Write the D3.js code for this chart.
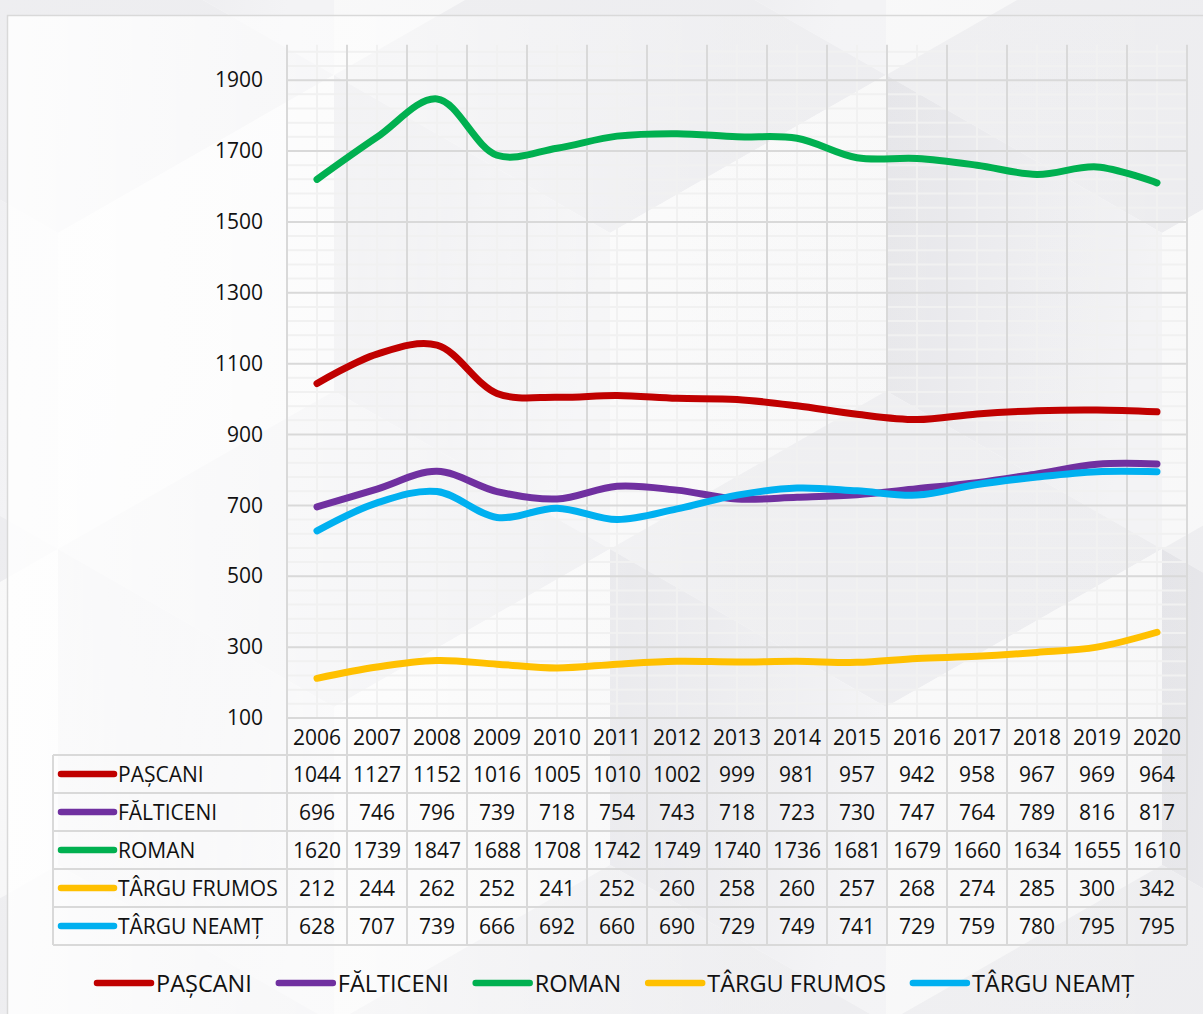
<!DOCTYPE html>
<html>
<head>
<meta charset="utf-8">
<script src="https://cdn.jsdelivr.net/npm/d3@7"></script>
<style>
  html, body { margin: 0; padding: 0; background: #ffffff; }
  svg { display: block; }
  text { font-family: "Open Sans", "DejaVu Sans", sans-serif; fill: #111; }
</style>
</head>
<body>
<svg id="chart" width="1203" height="1014"></svg>
<script>
// Anul (categorii)
const years = ["2006","2007","2008","2009","2010","2011","2012","2013","2014","2015","2016","2017","2018","2019","2020"];

// Serii pe orașe
const pascani     = [1044,1127,1152,1016,1005,1010,1002,999,981,957,942,958,967,969,964];
const falticeni   = [696,746,796,739,718,754,743,718,723,730,747,764,789,816,817];
const roman       = [1620,1739,1847,1688,1708,1742,1749,1740,1736,1681,1679,1660,1634,1655,1610];
const targuFrumos = [212,244,262,252,241,252,260,258,260,257,268,274,285,300,342];
const targuNeamt  = [628,707,739,666,692,660,690,729,749,741,729,759,780,795,795];

const seriesNames  = ["PAȘCANI","FĂLTICENI","ROMAN","TÂRGU FRUMOS","TÂRGU NEAMȚ"];
const seriesColors = ["#C00000","#7030A0","#00B050","#FFC000","#00B0F0"];

// Valorile axei verticale
const yTicks = [100,300,500,700,900,1100,1300,1500,1700,1900];
const yMinor = d3.range(100, 2001, 40);

const series = [pascani, falticeni, roman, targuFrumos, targuNeamt].map((vals, i) => ({
  name: seriesNames[i], color: seriesColors[i], values: vals
}));

const W = 1203, H = 1014;
const svg = d3.select("#chart");
const defs = svg.append("defs");

// ---- decorative isometric cube backdrop ----
const side = 316, hw = 276, hh = side / 2;
const leftGrad = defs.append("linearGradient").attr("id", "leftFace")
  .attr("x1", "0").attr("y1", "0").attr("x2", "1").attr("y2", "0.3");
leftGrad.append("stop").attr("offset", "0").attr("stop-color", "#e4e4e8");
leftGrad.append("stop").attr("offset", "1").attr("stop-color", "#f3f3f5");
const topGrad = defs.append("linearGradient").attr("id", "topFace")
  .attr("x1", "0").attr("y1", "0").attr("x2", "1").attr("y2", "1");
topGrad.append("stop").attr("offset", "0").attr("stop-color", "#efeff1");
topGrad.append("stop").attr("offset", "1").attr("stop-color", "#ececef");
const rightGrad = defs.append("linearGradient").attr("id", "rightFace")
  .attr("x1", "0").attr("y1", "0").attr("x2", "1").attr("y2", "1");
rightGrad.append("stop").attr("offset", "0").attr("stop-color", "#fafafa");
rightGrad.append("stop").attr("offset", "1").attr("stop-color", "#f6f6f7");

const bg = svg.append("g").attr("class", "backdrop");
bg.append("rect").attr("width", W).attr("height", H).attr("fill", "#fbfbfb");
const cubes = [];
for (let r = -1; r <= 3; r++) {
  const cy = 233 + (r - 1) * 1.5 * side;
  const x0 = (Math.abs(r) % 2 === 1) ? 58 : 334;
  for (let cx = x0 - 2 * hw * 2; cx <= W + 2 * hw; cx += 2 * hw) cubes.push([cx, cy]);
}
const pts = a => a.map(p => p.join(",")).join(" ");
cubes.forEach(([cx, cy]) => {
  bg.append("polygon").attr("fill", "url(#topFace)")
    .attr("points", pts([[cx, cy - side], [cx + hw, cy - hh], [cx, cy], [cx - hw, cy - hh]]));
  bg.append("polygon").attr("fill", "url(#leftFace)")
    .attr("points", pts([[cx - hw, cy - hh], [cx, cy], [cx, cy + side], [cx - hw, cy + hh]]));
  bg.append("polygon").attr("fill", "url(#rightFace)")
    .attr("points", pts([[cx, cy], [cx + hw, cy - hh], [cx + hw, cy + hh], [cx, cy + side]]));
});

// chart area: white wash that fades towards the right
const wash = defs.append("linearGradient").attr("id", "wash")
  .attr("x1", "0").attr("y1", "0").attr("x2", "1").attr("y2", "0");
wash.append("stop").attr("offset", "0").attr("stop-color", "#fff").attr("stop-opacity", 0.85);
wash.append("stop").attr("offset", "0.25").attr("stop-color", "#fff").attr("stop-opacity", 0.55);
wash.append("stop").attr("offset", "0.55").attr("stop-color", "#fff").attr("stop-opacity", 0.1);
wash.append("stop").attr("offset", "1").attr("stop-color", "#fff").attr("stop-opacity", 0);
svg.append("rect").attr("x", 7.5).attr("y", 15.5).attr("width", 1300).attr("height", 1100)
  .attr("fill", "url(#wash)").attr("stroke", "#d9d9d9").attr("stroke-width", 1.5);

// ---- scales ----
const plotTop = 44.7, plotBottom = 718, plotLeft = 287, plotRight = 1187;
const x = d3.scaleBand().domain(years).range([plotLeft, plotRight]).padding(0);
const xc = d => x(d) + x.bandwidth() / 2;
const y = d3.scaleLinear().domain([100, 2000]).range([plotBottom, plotTop]);

const rowH = 38;
const tableTop = plotBottom;            // year header row
const bodyTop = tableTop + 37;          // first series row
const tableBottom = bodyTop + rowH * series.length;
const tableLeft = 53;

// ---- gridlines ----
const grid = svg.append("g").attr("class", "grid");
grid.selectAll("line.hminor").data(yMinor.filter(v => !yTicks.includes(v) && v !== 100)).join("line")
  .attr("class", "hminor")
  .attr("x1", plotLeft).attr("x2", plotRight)
  .attr("y1", d => y(d)).attr("y2", d => y(d))
  .attr("stroke", "#f1f1f1").attr("stroke-width", 2);
grid.selectAll("line.vminor").data(years).join("line")
  .attr("class", "vminor")
  .attr("x1", d => xc(d)).attr("x2", d => xc(d))
  .attr("y1", plotTop).attr("y2", plotBottom)
  .attr("stroke", "#f1f1f1").attr("stroke-width", 2);
grid.selectAll("line.hmajor").data(yTicks).join("line")
  .attr("class", "hmajor")
  .attr("x1", plotLeft).attr("x2", plotRight)
  .attr("y1", d => y(d)).attr("y2", d => y(d))
  .attr("stroke", "#d9d9d9").attr("stroke-width", 2);
const bounds = years.map(d => x(d)).concat([plotRight]);
grid.selectAll("line.vmajor").data(bounds).join("line")
  .attr("class", "vmajor")
  .attr("x1", d => d).attr("x2", d => d)
  .attr("y1", plotTop).attr("y2", tableBottom)
  .attr("stroke", "#d9d9d9").attr("stroke-width", 2);

// ---- y axis labels ----
const yAxis = d3.axisLeft(y).tickValues(yTicks).tickSize(0).tickPadding(24).tickFormat(d3.format("d"));
const ya = svg.append("g").attr("transform", `translate(${plotLeft},0)`).call(yAxis);
ya.select(".domain").remove();
ya.selectAll("text").attr("font-size", 21).attr("fill", "#111")
  .style("font-family", '"Open Sans", sans-serif');

// ---- data table ----
const table = svg.append("g").attr("class", "table");
// horizontal rules
const rules = [tableTop].concat(d3.range(series.length + 1).map(i => bodyTop + i * rowH));
table.selectAll("line.rule").data(rules).join("line")
  .attr("x1", (d, i) => i === 0 ? plotLeft : tableLeft).attr("x2", plotRight)
  .attr("y1", d => d).attr("y2", d => d)
  .attr("stroke", "#d9d9d9").attr("stroke-width", 2);
table.append("line").attr("x1", tableLeft).attr("x2", tableLeft)
  .attr("y1", bodyTop).attr("y2", tableBottom)
  .attr("stroke", "#d9d9d9").attr("stroke-width", 2);

table.selectAll("text.year").data(years).join("text")
  .attr("class", "year")
  .attr("x", d => xc(d)).attr("y", tableTop + 18.5)
  .attr("text-anchor", "middle").attr("dominant-baseline", "central")
  .attr("font-size", 21).text(d => d);

const rows = table.selectAll("g.row").data(series).join("g")
  .attr("class", "row")
  .attr("transform", (d, i) => `translate(0,${bodyTop + i * rowH + rowH / 2})`);
rows.append("line")
  .attr("x1", 61).attr("x2", 114).attr("y1", 0).attr("y2", 0)
  .attr("stroke", d => d.color).attr("stroke-width", 6.5).attr("stroke-linecap", "round");
rows.append("text").attr("x", 118).attr("y", 0)
  .attr("dominant-baseline", "central").attr("font-size", 21).text(d => d.name);
rows.selectAll("text.val").data(d => d.values).join("text")
  .attr("class", "val")
  .attr("x", (v, i) => xc(years[i])).attr("y", 0)
  .attr("text-anchor", "middle").attr("dominant-baseline", "central")
  .attr("font-size", 21).text(v => v);

// ---- lines ----
const line = d3.line()
  .x((v, i) => xc(years[i]))
  .y(v => y(v))
  .curve(d3.curveCatmullRom.alpha(0.5));
svg.append("g").attr("class", "lines").selectAll("path").data(series).join("path")
  .attr("d", d => line(d.values))
  .attr("fill", "none")
  .attr("stroke", d => d.color)
  .attr("stroke-width", 7)
  .attr("stroke-linecap", "round")
  .attr("stroke-linejoin", "round");

// ---- legend ----
const legend = svg.append("g").attr("class", "legend").attr("transform", "translate(0,983)");
let lx = 97;
series.forEach(s => {
  const g = legend.append("g").attr("transform", `translate(${lx},0)`);
  g.append("line").attr("x1", 0).attr("x2", 54).attr("y1", 0).attr("y2", 0)
    .attr("stroke", s.color).attr("stroke-width", 6.5).attr("stroke-linecap", "round");
  const t = g.append("text").attr("x", 59).attr("y", 0)
    .attr("dominant-baseline", "central").attr("font-size", 23.5).text(s.name);
  lx += 59 + t.node().getComputedTextLength() + 27;
});
</script>
</body>
</html>
